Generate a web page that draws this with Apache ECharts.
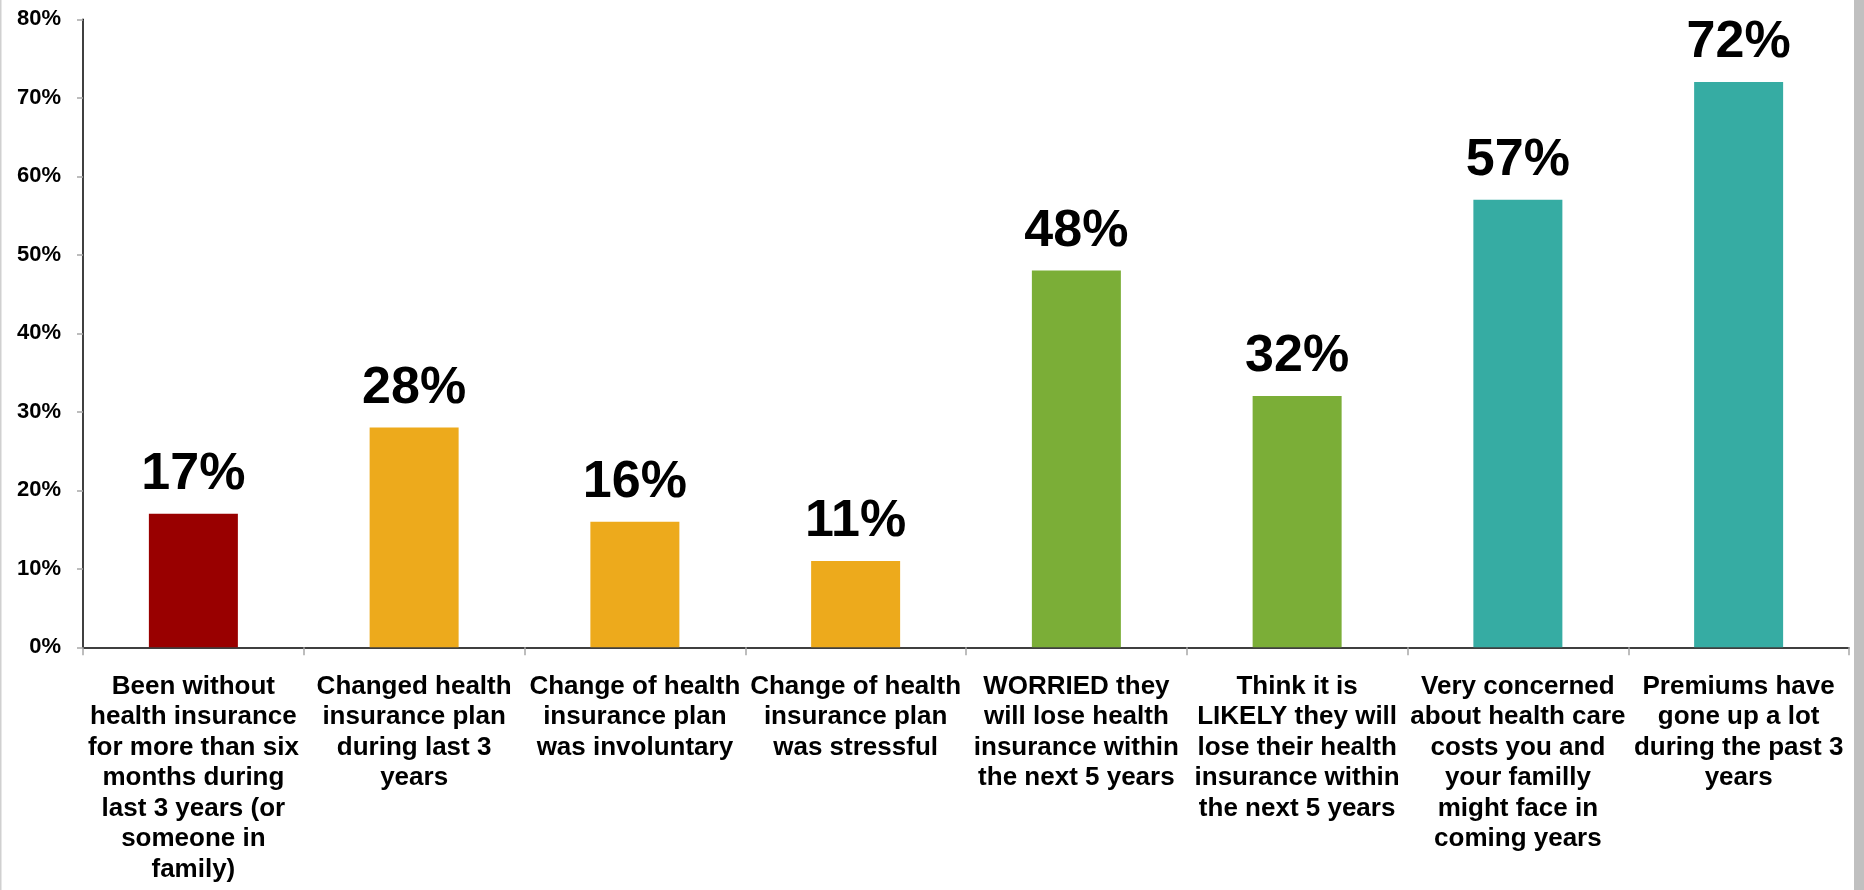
<!DOCTYPE html>
<html><head><meta charset="utf-8">
<script src="https://cdn.jsdelivr.net/npm/echarts@6/dist/echarts.min.js"></script>
<style>html,body{margin:0;padding:0;background:#fff;}#c{width:1864px;height:890px;}</style>
</head><body><div id="c"></div>
<script>
const categories = [
  "Been without\nhealth insurance\nfor more than six\nmonths during\nlast 3 years (or\nsomeone in\nfamily)",
  "Changed health\ninsurance plan\nduring last 3\nyears",
  "Change of health\ninsurance plan\nwas involuntary",
  "Change of health\ninsurance plan\nwas stressful",
  "WORRIED they\nwill lose health\ninsurance within\nthe next 5 years",
  "Think it is\nLIKELY they will\nlose their health\ninsurance within\nthe next 5 years",
  "Very concerned\nabout health care\ncosts you and\nyour familly\nmight face in\ncoming years",
  "Premiums have\ngone up a lot\nduring the past 3\nyears"
];
const values = [17, 28, 16, 11, 48, 32, 57, 72];
const barColors = ["#990000", "#EDAA1C", "#EDAA1C", "#EDAA1C", "#7BAE37", "#7BAE37", "#36ACA3", "#36ACA3"];
const yMin = 0, yMax = 80, yInterval = 10;

const chart = echarts.init(document.getElementById('c'), null, {renderer: 'canvas'});
const font = '"Liberation Sans", Arial, sans-serif';
chart.setOption({
  animation: false,
  backgroundColor: '#ffffff',
  grid: {left: 83, right: 15, top: 19.3, bottom: 242.7, containLabel: false},
  xAxis: {
    type: 'category',
    data: categories,
    boundaryGap: true,
    axisLine: {show: true, lineStyle: {color: '#000', width: 1.5}},
    axisTick: {show: true, alignWithLabel: false, length: 8, lineStyle: {color: '#a8a8a8', width: 1.5}},
    axisLabel: {interval: 0, margin: 24, color: '#000', fontFamily: font, fontWeight: 'bold', fontSize: 26, lineHeight: 30.5, align: 'center'},
    splitLine: {show: false}
  },
  yAxis: {
    type: 'value',
    min: yMin, max: yMax, interval: yInterval,
    axisLine: {show: true, lineStyle: {color: '#000', width: 1.5}},
    axisTick: {show: true, length: 6, lineStyle: {color: '#a8a8a8', width: 1.5}},
    axisLabel: {formatter: '{value}%', margin: 22, color: '#000', fontFamily: font, fontWeight: 'bold', fontSize: 22},
    splitLine: {show: false}
  },
  series: [{
    type: 'bar',
    data: values.map((v, i) => ({value: v, itemStyle: {color: barColors[i]}})),
    barWidth: 89,
    label: {show: true, position: 'top', distance: 13, formatter: '{c}%', color: '#000', fontFamily: font, fontWeight: 'bold', fontSize: 52}
  }],
  graphic: [
    {type: 'rect', shape: {x: 0, y: 0, width: 1.5, height: 890}, style: {fill: '#d0d0d0'}, silent: true},
    {type: 'rect', shape: {x: 1854, y: 0, width: 10, height: 890}, style: {fill: '#c0c0c0'}, silent: true}
  ]
});
</script></body></html>
